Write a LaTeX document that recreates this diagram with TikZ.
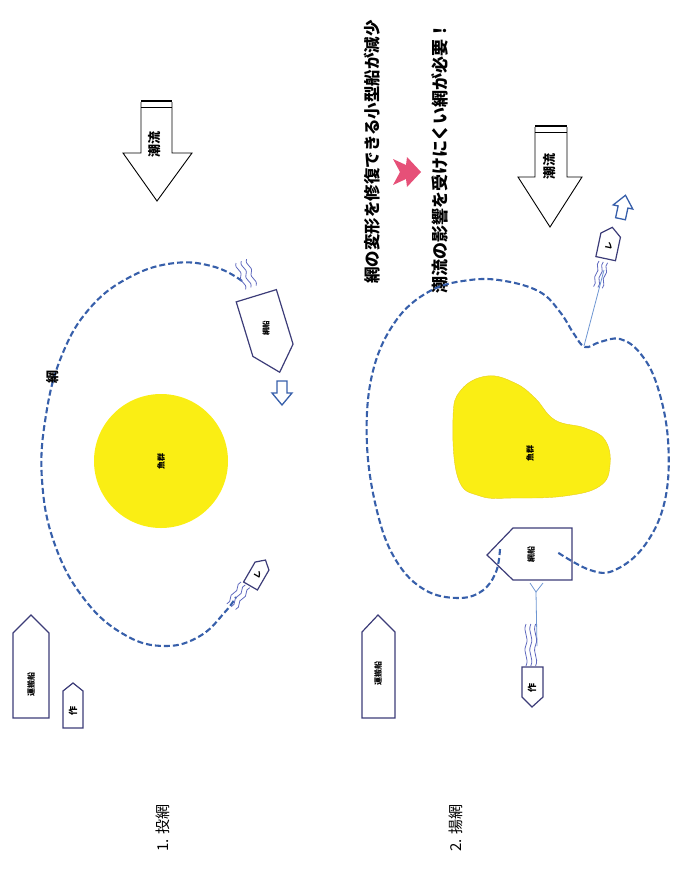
\documentclass[tikz,border=0pt]{standalone}
\usepackage{fontspec}
\newfontfamily\jp{Noto Sans CJK JP}
\definecolor{netblue}{RGB}{55,95,170}
\definecolor{boatc}{RGB}{60,60,120}
\definecolor{wakec}{RGB}{95,105,190}
\definecolor{fishy}{RGB}{250,238,20}
\definecolor{pinkc}{RGB}{230,80,120}
\definecolor{ropec}{RGB}{110,150,210}
\tikzset{
  net/.style={draw=netblue, line width=2.1pt, dash pattern=on 6pt off 3pt},
  boat/.style={draw=boatc, line width=1.2pt, line join=miter},
  wakeline/.style={draw=wakec, line width=0.8pt},
  tide/.style={draw=black, line width=0.9pt, fill=white},
  smallarrow/.style={draw=netblue, line width=1.3pt, fill=white},
  rope/.style={draw=ropec, line width=0.8pt},
  lbl/.style={font=\jp\bfseries, inner sep=0pt},
  pics/wake/.style={code={
    \foreach \d in {0,4,8} {
      \draw[wakeline] (\d,0) .. controls (\d-3,4) and (\d+3,6) .. (\d,10)
        .. controls (\d-3,14) and (\d+3,16) .. (\d,20);
    }
  }}
}
\begin{document}
\begin{tikzpicture}[x=1pt,y=-1pt]
\useasboundingbox (0,0) rectangle (675,873);

%%%%%%%%%%%%%%%% Panel 1 %%%%%%%%%%%%%%%%
% tide arrow
\draw[tide] (141,102) -- (141,153) -- (123,153) -- (157,201) -- (192,153) -- (172,153) -- (172,102);
\draw[line width=2.2pt] (141,101) -- (172,101);
\draw[line width=0.8pt] (141,107) -- (172,107);
\node[lbl, rotate=90, font=\jp\bfseries\fontsize{13}{13}\selectfont] (tideA) at (155,144) {潮流};

% fish school
\node[circle, fill=fishy, minimum size=134pt, inner sep=0pt] (schoolA) at (161,461) {};
\node[lbl, rotate=90, font=\jp\bfseries\fontsize{8}{8}\selectfont] (schoolAt) at (161,461) {魚群};

% net
\draw[net] plot[smooth, tension=0.7] coordinates {(242,281) (215,267) (175,263) (130,277) (90,308) (62,355) (46,415) (42,480) (55,545) (85,600) (125,635) (165,646) (200,636) (225,612) (236,597)};
\node[lbl, rotate=90, font=\jp\bfseries\fontsize{13}{13}\selectfont] (netA) at (53,377) {網};

% net boat
\begin{scope}[shift={(268,334)}, rotate=197]
\draw[boat, fill=white] (-21,40) -- (21,40) -- (21,-17) -- (0,-40) -- (-21,-17) -- cycle;
\end{scope}
\node[lbl, rotate=90, font=\jp\bfseries\fontsize{7.5}{7.5}\selectfont] (amibuneA) at (266,328) {網船};
\pic[rotate=20, scale=1.4] at (236,263) {wake};
% small arrow down
\draw[smallarrow] (277,381) -- (287,381) -- (287,393) -- (292,393) -- (282,405) -- (272,393) -- (277,393) -- cycle;

% re boat
\begin{scope}[shift={(258,573)}, rotate=-30]
\draw[boat, fill=white] (-8,15) -- (8,15) -- (8,-8) -- (0,-15) -- (-8,-8) -- cycle;
\end{scope}
\node[lbl, rotate=60, font=\jp\bfseries\fontsize{8}{8}\selectfont] (reA) at (258,575) {レ};
\pic[rotate=-33, scale=1.3] at (241,582) {wake};

% transport boat
\draw[boat] (13,718) -- (49,718) -- (49,633) -- (31,615) -- (13,633) -- cycle;
\node[lbl, rotate=90, font=\jp\bfseries\fontsize{8}{8}\selectfont] (unpanA) at (31,684) {運搬船};
\draw[boat] (63,728) -- (83,728) -- (83,691) -- (73,683) -- (63,691) -- cycle;
\node[lbl, rotate=90, font=\jp\bfseries\fontsize{9}{9}\selectfont] (sakuA) at (73,711) {作};

\node[rotate=90, font=\jp\fontsize{15}{15}\selectfont, inner sep=0pt] (titleA) at (163,828) {1. 投網};

%%%%%%%%%%%%%%%% Panel 2 %%%%%%%%%%%%%%%%
\node[lbl, rotate=90, font=\jp\bfseries\fontsize{16.5}{16.5}\selectfont] (msg1) at (372,152) {網の変形を修復できる小型船が減少};
\node[lbl, rotate=90, font=\jp\bfseries\fontsize{17}{17}\selectfont] (msg2) at (440,158) {潮流の影響を受けにくい網が必要！};
\draw[fill=pinkc, draw=none] (393,159) -- (406,165) -- (407,157) -- (421,172) -- (407,187) -- (406,179) -- (393,185) -- (400,172) -- cycle;

% tide arrow
\draw[tide] (535,127) -- (535,177) -- (518,177) -- (550,227) -- (582,177) -- (567,177) -- (567,127);
\draw[line width=2.2pt] (535,126) -- (567,126);
\draw[line width=0.8pt] (535,132) -- (567,132);
\node[lbl, rotate=90, font=\jp\bfseries\fontsize{13}{13}\selectfont] (tideB) at (550,166) {潮流};

% fish school blob
\draw[fill=fishy, draw=fishy!70!brown, line width=0.4pt] plot[smooth cycle, tension=0.7] coordinates {(453,418) (461,390) (487,376) (515,383) (535,398) (555,420) (585,428) (605,440) (610,465) (600,486) (565,496) (515,498) (480,496) (458,478)};
\node[lbl, rotate=90, font=\jp\bfseries\fontsize{8}{8}\selectfont] (schoolBt) at (530,453) {魚群};

% net
\draw[net] plot[smooth, tension=0.65] coordinates {(500,549) (496,572) (482,591) (458,598) (425,590) (397,562) (378,515) (367,445) (372,375) (395,322) (430,291) (470,280) (505,281) (540,292) (560,312) (574,334) (585,347) (600,342) (620,339) (640,353) (657,385) (668,440) (665,500) (645,545) (615,570) (590,570) (557,552)};

% net boat
\draw[boat] (487,555) -- (513,528) -- (572,528) -- (572,580) -- (513,580) -- cycle;
\node[lbl, rotate=90, font=\jp\bfseries\fontsize{8}{8}\selectfont] (amibuneB) at (531,554) {網船};
\draw[rope] (530,583) -- (536,592) -- (543,583);
\draw[rope] (536,592) -- (537,646);
\pic[xscale=1.2, yscale=2.1] at (526,624) {wake};
\draw[boat] (522,667) -- (543,667) -- (543,697) -- (532,707) -- (522,697) -- cycle;
\node[lbl, rotate=90, font=\jp\bfseries\fontsize{9}{9}\selectfont] (sakuB) at (532,688) {作};

% re boat
\begin{scope}[shift={(609,243)}, rotate=-12]
\draw[boat] (-10,16) -- (10,16) -- (10,-8) -- (0,-16) -- (-10,-8) -- cycle;
\end{scope}
\node[lbl, rotate=78, font=\jp\bfseries\fontsize{8}{8}\selectfont] (reB) at (609,246) {レ};
\pic[rotate=-12, xscale=1.1, yscale=1.3] at (599,261) {wake};
\draw[rope] (604,270) -- (584,346);
\begin{scope}[shift={(623,207)}, rotate=-12]
\draw[smallarrow] (-5,12) -- (5,12) -- (5,0) -- (10,0) -- (0,-12) -- (-10,0) -- (-5,0) -- cycle;
\end{scope}

% transport boat
\draw[boat] (362,718) -- (395,718) -- (395,632) -- (378,615) -- (362,632) -- cycle;
\node[lbl, rotate=90, font=\jp\bfseries\fontsize{8}{8}\selectfont] (unpanB) at (378,673) {運搬船};

\node[rotate=90, font=\jp\fontsize{15}{15}\selectfont, inner sep=0pt] (titleB) at (456,828) {2. 揚網};
\end{tikzpicture}
\end{document}
